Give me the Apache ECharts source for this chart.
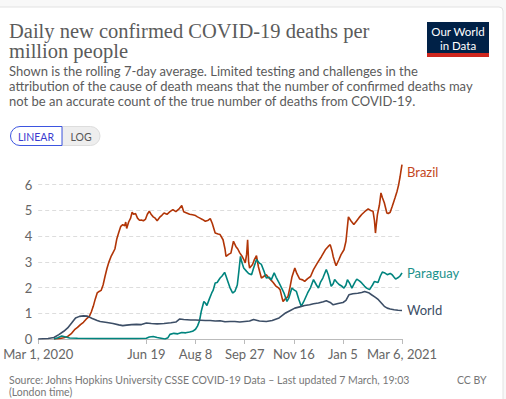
<!DOCTYPE html>
<html>
<head>
<meta charset="utf-8">
<script src="https://cdn.jsdelivr.net/npm/echarts@6/dist/echarts.min.js"></script>
<style>
html,body{margin:0;padding:0;background:#f8f8f8;}
#main{width:506px;height:399px;}
</style>
</head>
<body>
<div id="main"></div>
<script>
// days counted from Mar 1, 2020; values = deaths per million (7-day avg)
var tickDays = [0, 110, 160, 210, 260, 310, 370];
var tickLabels = ['Mar 1, 2020', 'Jun 19', 'Aug 8', 'Sep 27', 'Nov 16', 'Jan 5', 'Mar 6, 2021'];
var yTicks = [0, 1, 2, 3, 4, 5, 6];

var brazil = [[16,0],[22,0.02],[26,0.05],[30,0.1],[34,0.22],[37,0.36],[40,0.45],[43,0.56],[46,0.65],[49,0.78],
  [52,0.88],[54,1.05],[56,1.27],[58,1.55],[60,1.79],[62,1.85],[64,1.89],[66,2.1],[68,2.44],[70,2.75],[72,3.0],
  [74,3.2],[76,3.35],[78,3.5],[80,3.9],[82,4.15],[84,4.38],[86,4.45],[88,4.4],[89,4.55],[90,4.3],[92,4.55],
  [94,4.7],[95.5,4.93],[97,4.85],[99,4.88],[101,4.7],[103,4.62],[105,4.63],[107,4.6],[109,4.65],[111,4.85],
  [113,4.97],[115,4.84],[117,4.75],[119,4.7],[121,4.6],[124,4.75],[126,4.82],[128,4.9],[131,4.85],[134,4.95],
  [137,5.03],[140,4.95],[143,5.05],[146,5.19],[148,4.95],[151,4.9],[154,4.85],[157,4.83],[160,4.8],[162,4.75],
  [164,4.71],[167,4.65],[170,4.58],[173,4.62],[175,4.68],[177,4.5],[180,4.12],[183,4.08],[185,4.06],[188,3.86],
  [190,3.5],[191,3.21],[194,3.3],[196,3.34],[198.6,3.8],[201,3.6],[203,3.5],[205,3.35],[207,3.24],[209,3.1],
  [210.6,2.96],[212,3.3],[213,3.86],[214,3.0],[215,2.76],[218,2.9],[220,3.1],[222,3.24],[224,2.8],[227,2.37],
  [230,2.45],[232,2.5],[234,2.4],[236.6,2.3],[239,2.2],[241.5,2.07],[244,2.0],[246,1.92],[248,1.6],[249,1.46],
  [251,1.55],[254,1.65],[256,2.0],[258,2.4],[261,2.76],[263,2.55],[266,2.33],[269,2.3],[271,2.24],[274,2.35],
  [277,2.43],[280,2.7],[284,2.96],[288,3.2],[292,3.47],[295,3.6],[297,3.67],[299,3.4],[300,3.21],[302,2.95],
  [303,2.85],[306,3.1],[308,3.28],[311,3.47],[313,3.8],[315.5,4.75],[318,4.6],[321,4.45],[324,4.6],[327,4.75],
  [329,4.84],[332,4.95],[335.6,5.06],[338,5.0],[340.5,4.97],[342,4.6],[343,4.12],[344,4.5],[345,4.84],[347,5.2],
  [348.6,5.68],[350,5.5],[352,5.3],[354.6,4.9],[356,4.88],[358,4.93],[360,5.15],[361.7,5.35],[363,5.5],[365,5.75],
  [366.6,6.0],[368,6.3],[369,6.55],[370,6.78]];

var paraguay = [[16,0],[20,0.05],[24,0.12],[28,0.08],[32,0.04],[40,0.03],[60,0.02],[80,0.02],[100,0.02],
  [110,0.03],[113,0.08],[117,0.1],[121,0.06],[125,0.03],[129,0.0],[132,0.05],[134,0.18],[138,0.22],[142,0.2],
  [146,0.25],[150,0.24],[154,0.27],[157,0.3],[160,0.38],[162,0.5],[164,0.7],[166,1.1],[168.5,1.46],[170,1.4],
  [171.6,1.3],[174,1.55],[176.5,1.79],[178,1.9],[180,2.18],[182,2.2],[185,2.37],[187,2.45],[189.6,2.59],[191,2.45],
  [192.8,2.25],[195,2.0],[197.7,1.79],[200,1.85],[202.5,2.1],[204,2.6],[205.7,3.21],[207,3.0],[209,2.76],[212,2.63],
  [214,2.55],[217,2.5],[219,2.75],[222,3.09],[225,2.95],[227,2.9],[230,2.6],[232,2.37],[235,2.4],[237,2.3],
  [240,2.57],[242,2.4],[245,2.18],[248,1.95],[250,1.79],[253,1.46],[255,1.6],[258,1.98],[260.5,1.9],[262.6,1.85],
  [265,1.55],[267.5,1.27],[270,1.45],[274,1.79],[277,2.0],[280,2.31],[283,2.1],[285,1.98],[287,2.2],[289.5,2.37],
  [293,2.7],[295,2.5],[298,2.05],[300,2.15],[301.5,2.31],[304,2.2],[306,2.12],[309,2.05],[311,1.98],[313,2.1],
  [314.5,2.31],[317,2.15],[319,1.98],[322,2.2],[324,2.33],[327,2.25],[329,2.18],[332,2.05],[334,1.98],[337,1.92],
  [340,2.1],[342,2.24],[345.6,2.2],[348,2.45],[350,2.6],[352,2.58],[355,2.5],[358,2.55],[360,2.5],[362,2.4],
  [363.5,2.33],[366.6,2.4],[368,2.45],[370,2.57]];

var world = [[0,0],[10,0.02],[16,0.06],[21,0.17],[26,0.3],[30,0.43],[34,0.62],[38,0.82],[42,0.88],[46,0.9],
  [50,0.89],[55,0.8],[60,0.72],[63,0.68],[70,0.64],[76,0.6],[82,0.55],[86,0.52],[90,0.54],[95,0.56],[100,0.57],
  [105,0.56],[110,0.62],[115,0.6],[121,0.59],[128,0.6],[135,0.63],[140,0.66],[144,0.78],[148,0.76],[155,0.74],
  [160,0.74],[165,0.73],[170,0.72],[175,0.72],[180,0.7],[185,0.71],[190,0.67],[195,0.68],[200,0.68],[205,0.66],
  [210,0.68],[215,0.7],[219,0.76],[225,0.7],[232,0.68],[238,0.72],[245,0.82],[251,1.0],[256,1.1],[261,1.2],
  [266,1.25],[271,1.3],[276,1.33],[280,1.37],[285,1.4],[290,1.45],[293,1.49],[297,1.42],[300,1.33],[305,1.38],
  [310,1.42],[313,1.5],[316,1.72],[320,1.76],[325,1.78],[329,1.81],[332,1.85],[336,1.8],[339,1.72],[343,1.62],
  [346,1.53],[349,1.4],[352,1.27],[355,1.2],[358,1.17],[362,1.14],[366,1.12],[370,1.11]];

var textGray = '#5b5b5b';
var labelFont = 'Lato';

function line(name, data, color, labelColor, offset){
    return {
        name: name,
        type: 'line',
        data: data,
        showSymbol: false,
        symbol: 'none',
        lineStyle: {color: color, width: 1.6},
        itemStyle: {color: color},
        endLabel: {
            show: true,
            formatter: '{a}',
            color: labelColor,
            fontFamily: labelFont,
            fontSize: 13,
            distance: 5,
            offset: offset
        },
        emphasis: {disabled: true},
        animation: false
    };
}

var myChart = echarts.init(document.getElementById('main'), null, {renderer: 'svg'});
var option = {
    backgroundColor: '#f8f8f8',
    animation: false,
    grid: {left: 22, right: 104, top: 159, bottom: 60},
    xAxis: {
        type: 'value',
        min: 0,
        max: 370,
        axisLine: {show: true, lineStyle: {color: '#bbb'}},
        axisTick: {show: true, customValues: tickDays, length: 5, lineStyle: {color: '#bbb'}},
        axisLabel: {
            customValues: tickDays,
            color: '#666',
            fontFamily: labelFont,
            fontSize: 13,
            margin: 8,
            formatter: function(v){
                var i = tickDays.indexOf(v);
                return i >= 0 ? tickLabels[i] : '';
            }
        },
        splitLine: {show: false}
    },
    yAxis: {
        type: 'value',
        min: 0,
        max: 7,
        interval: 1,
        axisLine: {show: false},
        axisTick: {show: false},
        axisLabel: {
            color: '#666',
            fontFamily: labelFont,
            fontSize: 13,
            margin: 6,
            formatter: function(v){
                return yTicks.indexOf(v) >= 0 ? String(v) : '';
            }
        },
        splitLine: {show: true, showMaxLine: false, lineStyle: {color: '#ddd', type: [4, 3]}}
    },
    graphic: [
        {type: 'rect', z: -10, shape: {x: -4, y: 7, width: 507, height: 400, r: 4},
            style: {fill: '#fff', stroke: '#e2e2e2', lineWidth: 1}},
        {type: 'text', left: 9, top: 20, style: {text: 'Daily new confirmed COVID-19 deaths per', fill: textGray,
            font: '20.5px "Liberation Serif"'}},
        {type: 'text', left: 9, top: 40, style: {text: 'million people', fill: textGray,
            font: '20.5px "Liberation Serif"'}},
        {type: 'text', left: 9, top: 64, style: {text: 'Shown is the rolling 7-day average. Limited testing and challenges in the',
            fill: textGray, font: '13px Lato'}},
        {type: 'text', left: 9, top: 79, style: {text: 'attribution of the cause of death means that the number of confirmed deaths may',
            fill: textGray, font: '13px Lato'}},
        {type: 'text', left: 9, top: 94, style: {text: 'not be an accurate count of the true number of deaths from COVID-19.',
            fill: textGray, font: '13px Lato'}},
        {type: 'rect', shape: {x: 427, y: 22, width: 62, height: 35}, style: {fill: '#002147'}},
        {type: 'rect', shape: {x: 427, y: 53, width: 62, height: 4}, style: {fill: '#ce261e'}},
        {type: 'text', x: 458, y: 31, style: {text: 'Our World', fill: '#fff', font: '11.5px Lato',
            align: 'center', verticalAlign: 'middle'}},
        {type: 'text', x: 458, y: 45, style: {text: 'in Data', fill: '#fff', font: '11.5px Lato',
            align: 'center', verticalAlign: 'middle'}},
        {type: 'rect', shape: {x: 62, y: 126.5, width: 38, height: 19, r: [0, 10, 10, 0]},
            style: {fill: '#eee', stroke: '#ddd', lineWidth: 1}},
        {type: 'rect', shape: {x: 10.5, y: 126.5, width: 51.5, height: 19, r: [10, 0, 0, 10]},
            style: {fill: '#fff', stroke: '#3d55e0', lineWidth: 1}},
        {type: 'text', x: 36, y: 136.5, style: {text: 'LINEAR', fill: '#3a3ccf', font: '10.5px Lato',
            align: 'center', verticalAlign: 'middle'}},
        {type: 'text', x: 81, y: 136.5, style: {text: 'LOG', fill: '#555', font: '10.5px Lato',
            align: 'center', verticalAlign: 'middle'}},
        {type: 'text', left: 9, top: 374, style: {text: 'Source: Johns Hopkins University CSSE COVID-19 Data \u2013 Last updated 7 March, 19:03',
            fill: '#777', font: '10.5px Lato'}},
        {type: 'text', left: 9, top: 386.5, style: {text: '(London time)', fill: '#777', font: '10.5px Lato'}},
        {type: 'text', left: 457, top: 374, style: {text: 'CC BY', fill: '#777', font: '10.5px Lato'}}
    ],
    series: [
        line('Brazil', brazil, '#b13507', '#c4471d', [0, 7]),
        line('Paraguay', paraguay, '#00847e', '#1a918b', [0, 0]),
        line('World', world, '#3c4e66', '#3c4e66', [0, 0])
    ]
};
myChart.setOption(option);
</script>
</body>
</html>
